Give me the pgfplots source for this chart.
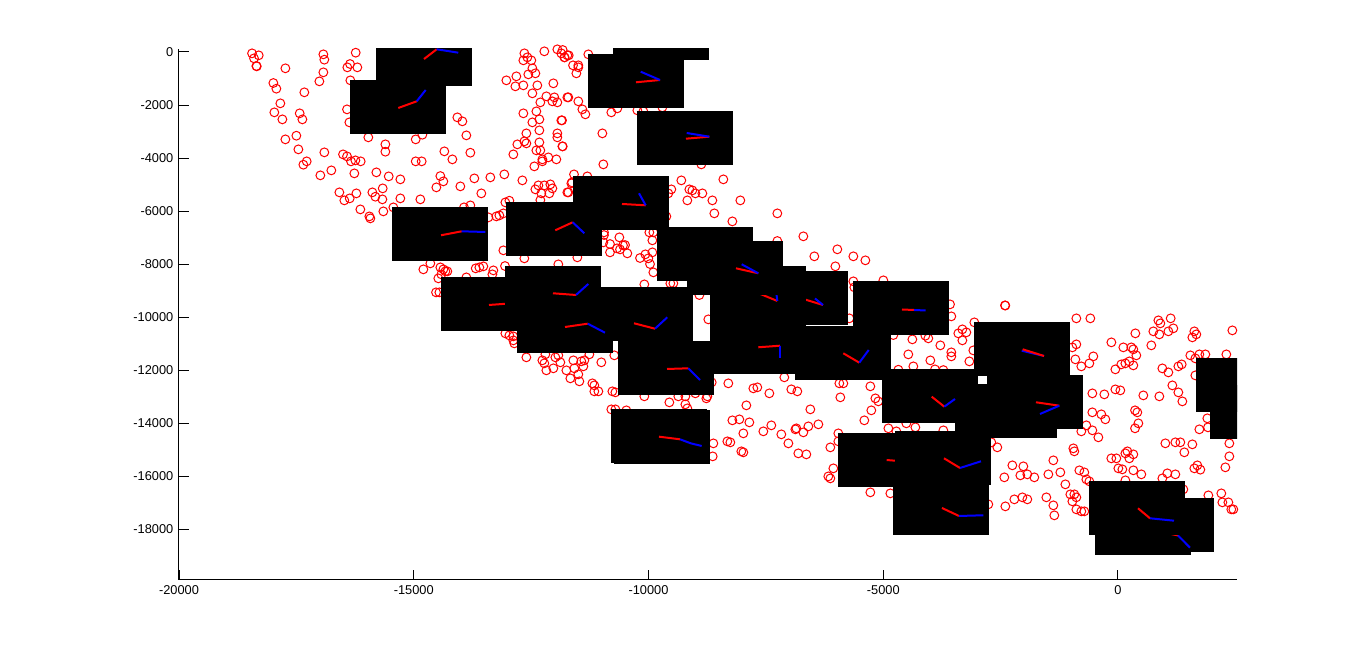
\documentclass[border=0pt]{standalone}
\usepackage{pgfplots}
\pgfplotsset{compat=1.18}
\usepackage{fontspec}
\setmainfont{Liberation Sans}
\newcommand{\blk}[4]{\addplot[fill=black,draw=none] coordinates {(#1,#2)(#3,#2)(#3,#4)(#1,#4)} --cycle;}
\pgfplotsset{common/.style={scale only axis,width=529pt,height=265.5pt,at={(0pt,0pt)},anchor=south west,
  xmin=-20001,xmax=2535,ymin=-19906,ymax=113}}
\begin{document}
\begin{tikzpicture}
\path[use as bounding box] (-89.5pt,-36pt) rectangle (593.5pt,290pt);
\begin{axis}[common,clip=false,scaled ticks=false,
  axis x line=bottom,axis y line=left,axis line style={-,line width=0.5pt,black},
  tick align=inside,major tick length=5pt,tick style={black,line width=0.5pt},
  xtick={-20000,-15000,-10000,-5000,0},xticklabels={-20000,-15000,-10000,-5000,0},
  ytick={-18000,-16000,-14000,-12000,-10000,-8000,-6000,-4000,-2000,0},
  yticklabels={-18000,-16000,-14000,-12000,-10000,-8000,-6000,-4000,-2000,0},
  tick label style={font=\fontsize{6.4}{7}\selectfont},
  xticklabel style={yshift=0.5pt},yticklabel style={xshift=0.7pt}]
\addplot[only marks,mark=o,mark size=2.2pt,mark options={red,line width=0.5pt}] coordinates {
(-18445,-51)(-18303,-126)(-18403,-239)(-18353,-528)(-18345,-540)(-17735,-616)(-16926,-89)(-16905,-290)(-16926,-767)(-17011,-1107)
(-16237,-26)(-16358,-453)(-16415,-579)(-16202,-579)(-16351,-1069)(-17991,-1170)(-17927,-1383)(-17331,-1521)(-17842,-1936)(-17970,-2276)
(-17430,-2313)(-17373,-2540)(-17799,-2540)(-16422,-2163)(-16372,-2653)(-17501,-3156)(-17735,-3294)(-17458,-3671)(-16905,-3784)(-17281,-4123)
(-17352,-4249)(-16507,-3860)(-16422,-3935)(-16337,-4123)(-16244,-4086)(-16131,-4123)(-15968,-3218)(-15605,-3482)(-15605,-3759)(-14959,-3294)
(-14817,-3118)(-14959,-4123)(-14832,-4123)(-14349,-3746)(-14178,-4048)(-13795,-3797)(-13880,-3143)(-14072,-2464)(-13965,-2615)
(-16756,-4463)(-16990,-4651)(-16266,-4576)(-15797,-4538)(-15534,-4689)(-15286,-4802)(-14434,-4677)(-14370,-4878)(-14519,-5104)(-14008,-5066)
(-13710,-4765)(-13369,-4727)(-13071,-4614)(-12687,-4840)(-13561,-5330)(-15662,-5142)(-16585,-5292)(-16223,-5330)(-15882,-5292)(-15818,-5456)
(-16479,-5594)(-16365,-5519)(-15669,-5556)(-15286,-5519)(-14860,-5556)(-15435,-5858)(-16138,-5934)(-15648,-6009)(-15946,-6198)(-15925,-6273)
(-13930,-5858)(-13795,-5783)(-13411,-6235)(-13241,-6198)(-13177,-6160)(-13092,-6084)(-13049,-5670)(-12964,-5607)
(-12644,-51)(-12666,-315)(-12581,-202)(-12496,-315)(-12474,-616)(-12560,-843)(-12410,-805)(-12219,25)(-11942,100)(-11857,-51)(-11793,-202)(-11729,-126)
(-13028,-1069)(-12815,-918)(-12836,-1295)(-12666,-1258)(-12368,-1258)(-12027,-1182)(-12474,-1559)(-12176,-1672)(-12006,-1710)(-12304,-1899)
(-12048,-1861)(-11942,-1899)(-11729,-1710)(-12389,-2238)(-12666,-2313)(-12325,-2540)(-12474,-2653)(-11857,-2577)(-12325,-2954)(-12602,-3068)
(-11942,-3068)(-11942,-3218)(-12644,-3369)(-12794,-3482)(-12602,-3445)(-12325,-3407)(-11835,-3558)(-12389,-3709)(-12304,-3709)(-12879,-3860)
(-12134,-3973)(-11963,-4048)(-12261,-4048)(-12261,-4123)(-12432,-4312)(-12091,-4991)(-12346,-5029)(-12219,-5029)(-12410,-5179)(-12048,-5142)
(-12283,-5330)(-12112,-5330)(-11729,-5292)(-12304,-5582)(-11644,-4953)
(-11828,75)(-11700,-126)(-11786,-202)(-11282,-89)(-11608,-503)(-11495,-503)(-11495,-579)(-11537,-805)(-11708,-1710)(-11495,-1861)
(-11409,-2163)(-11345,-2351)(-10792,-2276)(-10664,-2125)(-10238,-2200)(-10110,-2238)(-9705,-2087)(-11842,-2577)(-10983,-3068)(-11828,-3558)
(-10962,-4237)(-8875,-4237)(-11587,-4614)(-11303,-4689)(-11629,-4916)(-11708,-5292)(-9301,-4840)(-8406,-4802)(-9514,-5179)(-9578,-5330)
(-9130,-5179)(-9066,-5217)(-9002,-5330)(-8853,-5330)(-9173,-5594)(-8640,-5594)(-8044,-5594)(-8598,-6084)(-8214,-6386)(-7256,-6084)(-9620,-6198)
(-13092,-7478)(-12645,-7780)(-11921,-8006)(-11516,-7742)(-14796,-8195)(-14647,-7969)(-14434,-8120)(-14370,-8195)(-14327,-8270)(-14285,-8270)
(-14477,-8534)(-14413,-8383)(-13681,-8157)(-13603,-8120)(-13518,-8082)(-13305,-8233)(-13326,-8383)(-14526,-9062)(-14455,-9062)(-13057,-8069)
(-13880,-8497)(-13049,-10608)(-12964,-10684)(-12879,-10721)(-12879,-10872)(-12858,-10985)
(-10948,-6800)(-10948,-6900)(-10820,-7240)(-10621,-6988)(-10543,-7290)(-10500,-7277)(-10671,-7403)(-10607,-7441)(-10451,-7592)(-10820,-7554)
(-10962,-7177)(-10181,-7767)(-10067,-7629)(-10004,-7780)(-9918,-7554)(-9968,-7994)(-9897,-8308)(-10089,-8761)(-9982,-6800)(-9897,-6800)
(-9918,-7101)(-9535,-8723)(-9471,-8723)(-8917,-9163)(-8726,-10080)
(-12602,-11512)(-12261,-11625)(-12197,-11399)(-12219,-11738)(-12176,-12002)(-12027,-11926)(-11984,-11512)(-11921,-11436)(-11878,-11700)(-11750,-12002)
(-11601,-11625)(-11580,-11926)(-11431,-11662)(-11367,-11625)(-11388,-11851)(-11495,-12153)(-11665,-12304)(-11473,-12417)(-11260,-11399)(-11005,-11700)
(-10728,-11436)(-11196,-12492)(-11154,-12568)(-11154,-12794)(-11068,-12794)(-10770,-12794)(-10706,-12832)(-10089,-12982)(-9556,-13209)(-9365,-12982)
(-9215,-13284)(-9215,-12982)(-9002,-12869)(-8768,-13058)(-8747,-12982)(-8654,-12454)(-8300,-12492)(-7767,-12681)(-7682,-12643)(-7426,-12869)
(-7107,-12266)(-6958,-12718)(-6830,-12794)(-5935,-12492)(-5850,-12492)(-5275,-12605)(-5914,-13020)(-5168,-13058)(-5105,-13171)(-7916,-13322)
(-6553,-13473)(-5254,-13510)(-5403,-13887)(-8214,-13887)(-8065,-13850)(-7852,-13963)(-7384,-14076)(-7554,-14302)(-7980,-14378)(-7171,-14415)
(-6872,-14227)(-6851,-14189)(-6702,-14340)(-6595,-14114)(-6382,-14038)(-5957,-14378)(-7021,-14755)(-5957,-14679)(-6127,-14906)(-6809,-15132)
(-6638,-15170)(-8619,-14755)(-8633,-15245)(-8321,-14679)(-8257,-14717)(-8023,-15056)(-7980,-15094)(-6063,-15697)(-6170,-16000)(-6127,-16075)
(-5275,-16602)(-10792,-13473)(-10706,-13473)(-10472,-13510)(-9173,-13435)
(-7256,-7126)(-6702,-6950)(-5978,-7440)(-6468,-7704)(-5637,-7704)(-5381,-7855)(-6020,-8081)(-5637,-8647)(-4998,-8609)(-5616,-8873)
(-5722,-10042)(-4785,-10671)(-4380,-10834)(-4040,-10796)(-4103,-10696)(-3784,-11060)(-4466,-11400)(-3997,-11626)(-3550,-11324)(-3550,-11475)
(-3166,-11664)(-3081,-11249)(-4359,-11852)(-4678,-11978)(-3898,-11965)(-3720,-11991)(-3578,-9514)(-3550,-9967)(-3060,-10193)(-3315,-10457)
(-3230,-10570)(-3401,-10608)(-3315,-10872)(-2407,-9552)(-2400,-9560)(-887,-10042)(-589,-10042)(-141,-10947)(-887,-11023)(-972,-11136)
(-908,-11588)(-525,-11475)(-610,-11739)(-781,-11852)(114,-11136)(284,-11136)(327,-11211)(391,-11437)(242,-11664)(157,-11739)
(71,-11777)(327,-11815)(-56,-11965)(710,-11060)(370,-10608)(753,-10532)(881,-10646)(860,-10118)(902,-10231)(1122,-10042)
(1073,-10532)(1179,-10419)(1626,-10532)(1584,-10759)(1669,-10646)(2436,-10495)(1541,-11437)(1733,-11400)(1861,-11400)(2308,-11400)
(1648,-11551)(945,-11928)(1073,-12079)(1286,-11852)(1357,-11777)(1648,-12192)(1158,-12569)(1286,-12833)(1371,-13172)(-56,-12720)
(50,-12757)(-546,-12870)(-291,-12908)(540,-12946)(881,-12983)
(-547,-13585)(-355,-13661)(-269,-13849)(363,-13510)(412,-13585)(434,-14000)(363,-14188)(-674,-14075)(-781,-14302)(-546,-14264)
(-418,-14528)(-951,-14943)(-930,-15056)(1009,-14754)(1222,-14716)(1328,-14716)(1584,-14792)(1413,-15093)(1733,-14226)(1903,-13811)
(1917,-14151)(2372,-14754)(2372,-15244)(2287,-15659)(1754,-15747)(1626,-15697)(1690,-15584)(-142,-15320)(-35,-15320)(157,-15131)
(200,-15056)(242,-15320)(327,-15169)(8,-15697)(93,-15735)(327,-15772)(497,-15923)(1051,-15885)(1222,-15923)(945,-16074)
(157,-16149)(-1377,-15395)(-2250,-15584)(-2016,-15621)(-2421,-16036)(-2080,-15961)(-1931,-15923)(-1782,-16036)(-1483,-15923)(-1228,-15848)
(-823,-15772)(-717,-15848)(-674,-16112)(-610,-16187)(-1121,-16300)(-1015,-16677)(-930,-16677)(-887,-16790)(-972,-16941)(-1526,-16790)
(-2208,-16866)(-2037,-16790)(-1931,-16866)(-2399,-17130)(-1377,-17092)(-1356,-17469)(-887,-17243)(-781,-17318)(-717,-17318)(1925,-16715)
(2201,-16640)(2223,-16979)(2351,-16979)(2414,-17243)(2457,-17243)(1392,-16489)(-2570,-14905)(-2698,-14716)(-2762,-17054)
(-4891,-14188)(-4721,-14302)(-4508,-14000)(-4316,-14151)(-3720,-14264)(-4849,-16640)
};
\end{axis}
\begin{axis}[common,hide axis,clip=true,every axis plot/.append style={line join=round}]
\blk{-15805}{754}{-13760}{-1282}
\addplot[red,line width=1pt] coordinates {(-14782,-264)(-14512,102)};
\addplot[blue,line width=1pt] coordinates {(-14512,102)(-14052,-26)};
\blk{-16358}{-1056}{-14314}{-3091}
\addplot[red,line width=1pt] coordinates {(-15330,-2111)(-14938,-1859)};
\addplot[blue,line width=1pt] coordinates {(-14938,-1859)(-14746,-1433)};
\blk{-10757}{1734}{-8712}{-302}
\blk{-11289}{-75}{-9244}{-2111}
\addplot[red,line width=1pt] coordinates {(-10267,-1142)(-9755,-1056)};
\addplot[blue,line width=1pt] coordinates {(-9755,-1056)(-10166,-743)};
\blk{-10245}{-2224}{-8200}{-4260}
\addplot[red,line width=1pt] coordinates {(-9202,-3269)(-8705,-3193)};
\addplot[blue,line width=1pt] coordinates {(-8705,-3193)(-9187,-3054)};
\blk{-11609}{-4675}{-9564}{-6711}
\addplot[red,line width=1pt] coordinates {(-10565,-5730)(-10060,-5780)};
\addplot[blue,line width=1pt] coordinates {(-10060,-5780)(-10203,-5327)};
\blk{-13036}{-5655}{-10991}{-7691}
\addplot[red,line width=1pt] coordinates {(-11986,-6722)(-11615,-6420)};
\addplot[blue,line width=1pt] coordinates {(-11615,-6420)(-11368,-6835)};
\blk{-15464}{-5844}{-13419}{-7879}
\addplot[red,line width=1pt] coordinates {(-14420,-6910)(-13979,-6760)};
\addplot[blue,line width=1pt] coordinates {(-13979,-6760)(-13476,-6786)};
\blk{-14420}{-8483}{-12375}{-10518}
\addplot[red,line width=1pt] coordinates {(-13398,-9538)(-12524,-9425)};
\blk{-13057}{-8068}{-11012}{-10104}
\addplot[red,line width=1pt] coordinates {(-12035,-9097)(-11545,-9161)};
\addplot[blue,line width=1pt] coordinates {(-11545,-9161)(-11283,-8746)};
\blk{-11097}{-8860}{-9053}{-10895}
\addplot[red,line width=1pt] coordinates {(-10309,-10228)(-9862,-10432)};
\addplot[blue,line width=1pt] coordinates {(-9862,-10432)(-9600,-10002)};
\blk{-12801}{-9312}{-10757}{-11348}
\addplot[red,line width=1pt] coordinates {(-11779,-10368)(-11295,-10243)};
\addplot[blue,line width=1pt] coordinates {(-11295,-10243)(-10927,-10582)};
\blk{-9819}{-6598}{-7775}{-8633}
\blk{-7796}{-8256}{-5751}{-10292}
\addplot[red,line width=1pt] coordinates {(-6773,-9274)(-6284,-9538)};
\addplot[blue,line width=1pt] coordinates {(-6284,-9538)(-6454,-9293)};
\blk{-8690}{-8068}{-6646}{-10104}
\addplot[red,line width=1pt] coordinates {(-7668,-9086)(-7257,-9387)};
\addplot[blue,line width=1pt] coordinates {(-7257,-9387)(-7285,-8973)};
\blk{-9180}{-7125}{-7136}{-9161}
\addplot[red,line width=1pt] coordinates {(-8137,-8155)(-7662,-8343)};
\addplot[blue,line width=1pt] coordinates {(-7662,-8343)(-8015,-8004)};
\blk{-8690}{-10104}{-6646}{-12139}
\addplot[red,line width=1pt] coordinates {(-7662,-11133)(-7199,-11073)};
\addplot[blue,line width=1pt] coordinates {(-7199,-11073)(-7199,-11548)};
\blk{-6880}{-10330}{-4835}{-12366}
\addplot[red,line width=1pt] coordinates {(-5851,-11359)(-5510,-11713)};
\addplot[blue,line width=1pt] coordinates {(-5510,-11713)(-5310,-11235)};
\blk{-5645}{-8633}{-3600}{-10669}
\addplot[red,line width=1pt] coordinates {(-4601,-9708)(-4345,-9727)};
\addplot[blue,line width=1pt] coordinates {(-4345,-9727)(-4096,-9745)};
\blk{-3067}{-10179}{-1022}{-12215}
\addplot[blue,line width=1pt] coordinates {(-1576,-11461)(-2051,-11261)};
\addplot[red,line width=1pt] coordinates {(-2030,-11208)(-1576,-11461)};
\blk{-3472}{-12516}{-1427}{-14552}
\blk{-3344}{-12516}{-1299}{-14552}
\blk{-2790}{-12177}{-746}{-14213}
\addplot[red,line width=1pt] coordinates {(-1747,-13206)(-1250,-13335)};
\addplot[blue,line width=1pt] coordinates {(-1250,-13335)(-1661,-13647)};
\blk{-5027}{-11951}{-2982}{-13987}
\addplot[red,line width=1pt] coordinates {(-3968,-12995)(-3700,-13372)};
\addplot[blue,line width=1pt] coordinates {(-3700,-13372)(-3472,-13082)};
\blk{-5964}{-14364}{-3919}{-16400}
\addplot[red,line width=1pt] coordinates {(-4927,-15382)(-4430,-15457)};
\blk{-4750}{-14288}{-2705}{-16324}
\addplot[red,line width=1pt] coordinates {(-3706,-15318)(-3365,-15683)};
\addplot[blue,line width=1pt] coordinates {(-3365,-15683)(-2918,-15431)};
\blk{-4793}{-16173}{-2748}{-18209}
\addplot[red,line width=1pt] coordinates {(-3749,-17191)(-3387,-17493)};
\addplot[blue,line width=1pt] coordinates {(-3387,-17493)(-2869,-17466)};
\blk{0}{-16814}{2045}{-18850}
\blk{-490}{-16927}{1555}{-18963}
\addplot[red,line width=1pt] coordinates {(533,-17945)(1278,-18227)};
\addplot[blue,line width=1pt] coordinates {(1278,-18227)(1534,-18688)};
\blk{-618}{-16173}{1427}{-18209}
\addplot[red,line width=1pt] coordinates {(426,-17203)(682,-17580)};
\addplot[blue,line width=1pt] coordinates {(682,-17580)(1193,-17670)};
\blk{1661}{-11536}{3706}{-13572}
\blk{1960}{-12554}{4004}{-14590}
\blk{-10650}{-10895}{-8605}{-12931}
\addplot[red,line width=1pt] coordinates {(-9606,-11951)(-9153,-11925)};
\addplot[blue,line width=1pt] coordinates {(-9153,-11925)(-8903,-12366)};
\blk{-10735}{-13497}{-8690}{-15532}
\blk{-10799}{-13459}{-8754}{-15495}
\addplot[red,line width=1pt] coordinates {(-9777,-14503)(-9329,-14602)};
\addplot[blue,line width=1pt] coordinates {(-9329,-14602)(-9102,-14752)(-8868,-14854)};
\end{axis}
\end{tikzpicture}
\end{document}
